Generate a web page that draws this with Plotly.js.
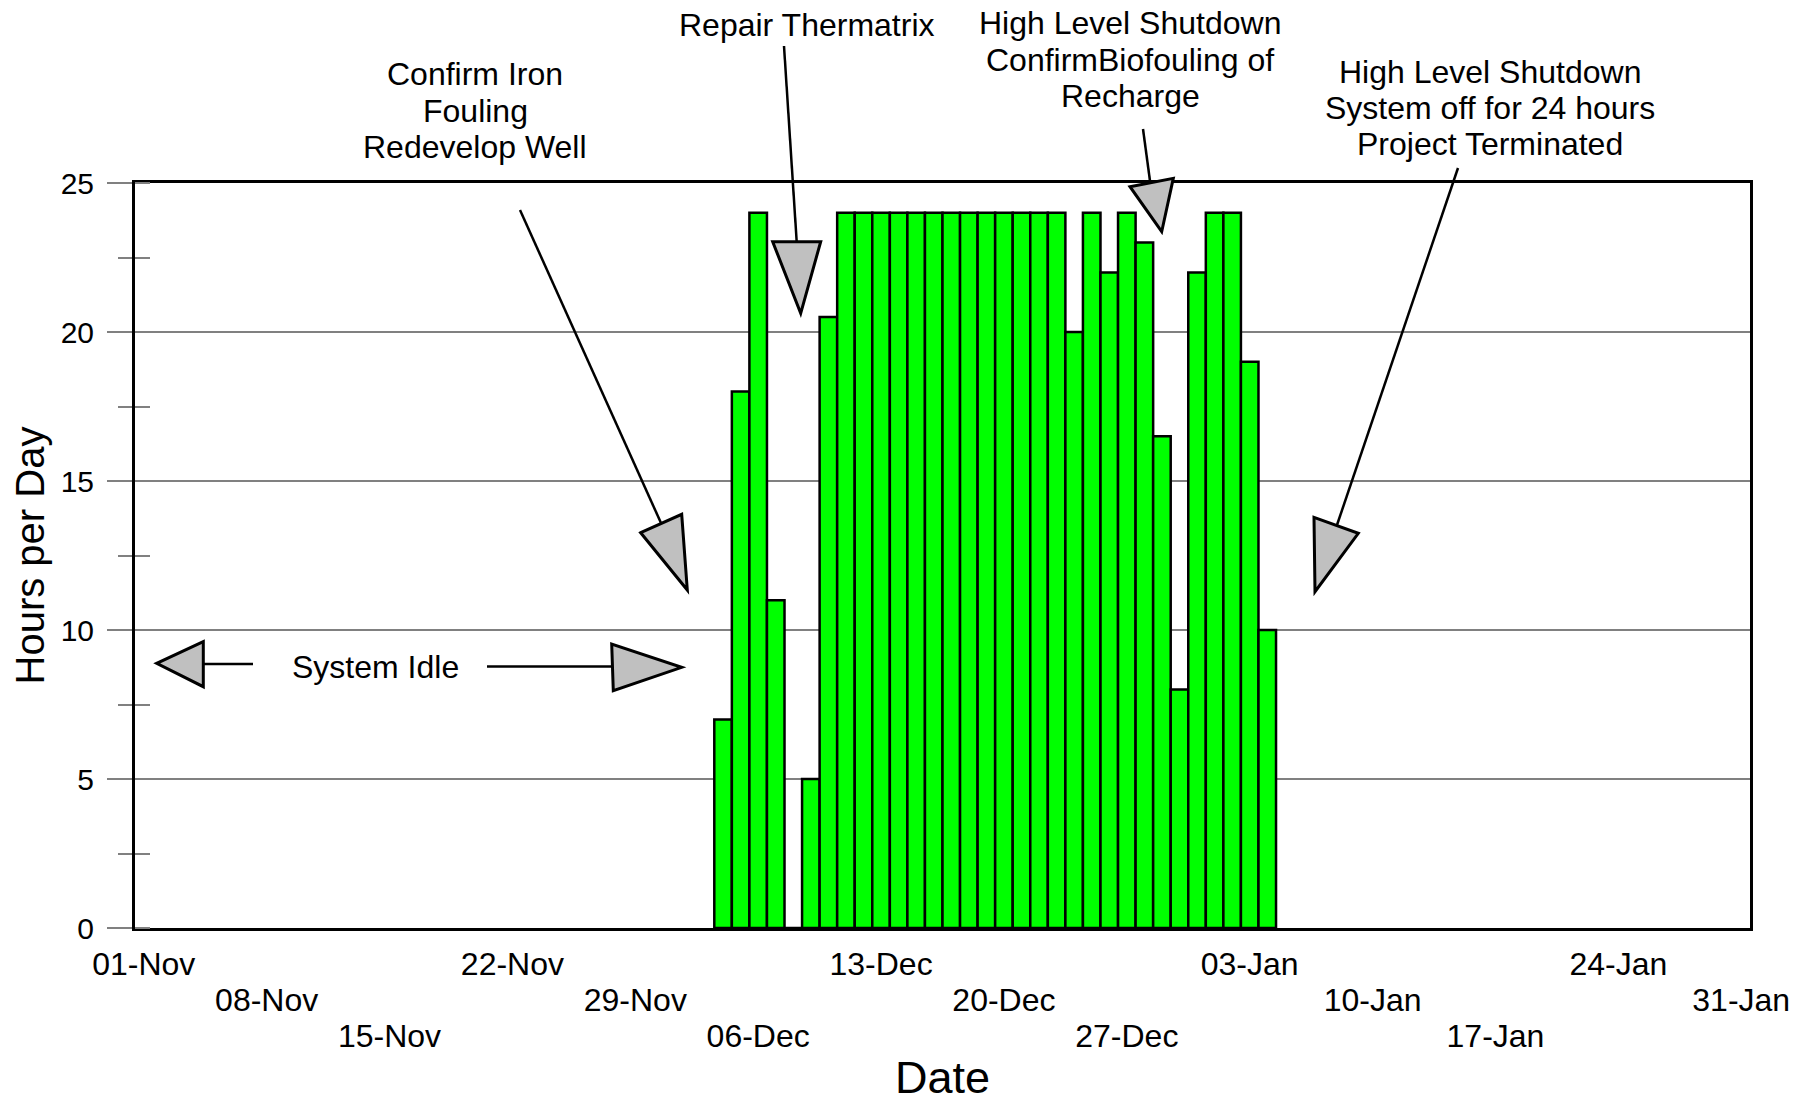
<!DOCTYPE html>
<html>
<head>
<meta charset="utf-8">
<script src="https://cdn.plot.ly/plotly-3.0.1.min.js"></script>
<style>html,body{margin:0;padding:0;background:#fff;}#chart{width:1811px;height:1103px;}</style>
</head>
<body>
<div id="chart"></div>
<script>
// ---- data ----
const dates = ['1999-12-04','1999-12-05','1999-12-06','1999-12-07','1999-12-08','1999-12-09','1999-12-10',
  '1999-12-11','1999-12-12','1999-12-13','1999-12-14','1999-12-15','1999-12-16','1999-12-17','1999-12-18',
  '1999-12-19','1999-12-20','1999-12-21','1999-12-22','1999-12-23','1999-12-24','1999-12-25','1999-12-26',
  '1999-12-27','1999-12-28','1999-12-29','1999-12-30','1999-12-31','2000-01-01','2000-01-02','2000-01-03','2000-01-04'];
const hours = [7,18,24,11,0,5,20.5,
  24,24,24,24,24,24,24,24,
  24,24,24,24,24,20,24,22,
  24,23,16.5,8,22,24,24,19,10];
const tickRow1 = ['1999-11-01','1999-11-22','1999-12-13','2000-01-03','2000-01-24'];
const tickRow2 = ['1999-11-08','1999-11-29','1999-12-20','2000-01-10','2000-01-31'];
const tickRow3 = ['1999-11-15','1999-12-06','1999-12-27','2000-01-17'];
const yTicks = [0,5,10,15,20,25];
const xRange = ['1999-10-31 12:00','2000-01-31 12:00'];
const yRange = [0,25];

const noteIron = ['Confirm Iron','Fouling','Redevelop Well'];
const noteRepair = ['Repair Thermatrix'];
const noteBio = ['High Level Shutdown','ConfirmBiofouling of','Recharge'];
const noteEnd = ['High Level Shutdown','System off for 24 hours','Project Terminated'];
const noteIdle = ['System Idle'];

// ---- layout geometry (pixels) ----
const W = 1811, H = 1103;
const M = {l:135, r:61, t:183, b:175};
const PW = W - M.l - M.r, PH = H - M.t - M.b;
const px = x => (x - M.l) / PW;
const py = y => (M.t + PH - y) / PH;

const FONT = 'Liberation Sans, Arial, Helvetica, sans-serif';
const fs = 32;

// text annotations (one per line)
const annotations = [];
function addNote(lines, cx, ys){
  lines.forEach((t,i)=>annotations.push({
    text:t, xref:'paper', yref:'paper', x:px(cx), y:py(ys[i]),
    xanchor:'center', yanchor:'middle', showarrow:false,
    font:{family:FONT, size:fs, color:'#000'}
  }));
}
addNote(noteIron, 475, [74,111,147]);
addNote(noteRepair, 806, [25]);
addNote(noteBio, 1130, [23,60,96]);
addNote(noteEnd, 1490, [72,108,144]);
addNote(noteIdle, 375, [667]);

// arrow decorations: shaft + gray triangular head
const shapes = [];
function arrow(s, e, tri){
  shapes.push({type:'line', xref:'paper', yref:'paper',
    x0:px(s[0]), y0:py(s[1]), x1:px(e[0]), y1:py(e[1]),
    line:{color:'#000', width:2.5}});
  const p = tri.map(q=>px(q[0])+','+py(q[1]));
  shapes.push({type:'path', xref:'paper', yref:'paper',
    path:'M'+p[0]+' L'+p[1]+' L'+p[2]+' Z',
    fillcolor:'#c0c0c0', line:{color:'#000', width:3}});
}
arrow([520,210],[661,523],[[640.7,532.7],[681.7,514.3],[687.3,590]]);
arrow([784,46],[796.7,241.7],[[772.7,241.7],[820.7,241.7],[800.7,313.3]]);
arrow([1143,129],[1150,181],[[1130,186.7],[1173.3,178.3],[1161.7,231.7]]);
arrow([1458,168],[1337,525],[[1314,517.3],[1358.3,533.3],[1315,591.7]]);
arrow([253,664],[203.3,664],[[203.3,641.7],[203.3,686.7],[156.7,663.3]]);
arrow([487,666.5],[612,666.5],[[611.7,644],[613.3,690.7],[681.7,667.3]]);

const tickFont = {family:FONT, size:fs, color:'#000'};
function extraX(ticks, standoff){
  return {type:'date', overlaying:'x', anchor:'y', side:'bottom', range:xRange,
    tickvals:ticks, tickformat:'%d-%b', ticks:'', showgrid:false, zeroline:false,
    showline:false, tickfont:tickFont, ticklabelstandoff:standoff, fixedrange:true};
}

const bars = {
  type:'bar', x:dates, y:hours,
  marker:{color:'#00ff00', line:{color:'#000', width:2.5}},
  hoverinfo:'x+y'
};
// markless helper traces so the extra label rows / minor tick axis are drawn
const row2 = {type:'scatter', mode:'none', x:dates, y:hours, xaxis:'x2', yaxis:'y', hoverinfo:'skip', showlegend:false};
const row3 = {type:'scatter', mode:'none', x:dates, y:hours, xaxis:'x3', yaxis:'y', hoverinfo:'skip', showlegend:false};
const minorY = {type:'scatter', mode:'none', x:dates, y:hours, xaxis:'x', yaxis:'y2', hoverinfo:'skip', showlegend:false};

const layout = {
  width:W, height:H, margin:M,
  paper_bgcolor:'#fff', plot_bgcolor:'#fff',
  showlegend:false, bargap:0,
  font:{family:FONT, color:'#000'},
  xaxis:{type:'date', range:xRange, tickvals:tickRow1, tickformat:'%d-%b', ticks:'',
    showgrid:false, zeroline:false, showline:true, mirror:true, linecolor:'#000', linewidth:3,
    tickfont:tickFont, ticklabelstandoff:6,
    title:{text:'Date', font:{family:FONT, size:45, color:'#000'}, standoff:110}},
  xaxis2:extraX(tickRow2, 50),
  xaxis3:extraX(tickRow3, 86),
  yaxis:{range:yRange, tickvals:yTicks, ticks:'outside', ticklen:25, tickwidth:2, tickcolor:'#808080',
    showgrid:true, gridcolor:'#808080', gridwidth:2, zeroline:false,
    showline:true, mirror:true, linecolor:'#000', linewidth:3,
    tickfont:{family:FONT, size:30, color:'#000'}, ticklabelstandoff:7,
    minor:{dtick:2.5, ticks:'outside', ticklen:14, tickwidth:2, tickcolor:'#808080', showgrid:false},
    title:{text:'Hours per Day', font:{family:FONT, size:40, color:'#000'}, standoff:4}},
  yaxis2:{overlaying:'y', anchor:'x', side:'left', range:yRange, showgrid:false, zeroline:false,
    showline:false, showticklabels:false, ticks:'', tickvals:yTicks,
    minor:{dtick:2.5, ticks:'inside', ticklen:15, tickwidth:2, tickcolor:'#808080', showgrid:false}},
  annotations:annotations,
  shapes:shapes
};

Plotly.newPlot('chart', [bars, row2, row3, minorY], layout, {staticPlot:true, displayModeBar:false});
</script>
</body>
</html>
